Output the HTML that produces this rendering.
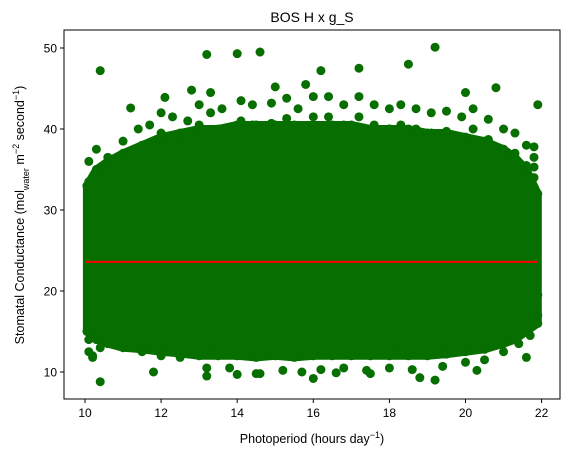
<!DOCTYPE html>
<html><head><meta charset="utf-8"><style>
body{margin:0;background:#fff}
svg text{font-family:"Liberation Sans","DejaVu Sans",sans-serif;fill:#000}
</style></head><body>
<svg id="chart" width="570" height="460" xmlns="http://www.w3.org/2000/svg">
<rect width="570" height="460" fill="#fff"/>
<g id="plot"></g>
<g id="axes"></g>
<text x="312" y="22" font-size="14" text-anchor="middle">BOS H x g_S</text>
<text x="312" y="443" font-size="12.5" text-anchor="middle">Photoperiod (hours day<tspan baseline-shift="super" font-size="9">−1</tspan>)</text>
<text transform="translate(24,215) rotate(-90)" font-size="12.5" text-anchor="middle">Stomatal Conductance (mol<tspan baseline-shift="sub" font-size="9">water</tspan> m<tspan baseline-shift="super" font-size="9">−2</tspan> second<tspan baseline-shift="super" font-size="9">−1</tspan>)</text>
</svg>
<script>
// data: envelope of the dense point cloud
const envX = [10.05,10.3,10.6,11,11.5,12,12.5,13,13.5,14,14.5,15,15.5,16,16.5,17,17.5,18,18.5,19,19.5,20,20.5,21,21.3,21.6,21.9];
const envUpper = [33,35,36,37,38,39,39.5,40,40,40.5,40.5,40.5,40.5,40.5,40.5,40.5,40,40,40,39.5,39.5,39,38.5,37.5,36.5,35,32];
const envLower = [15,14,13.5,13,12.8,12.5,12.3,12,12,12,11.8,12,11.8,12,12,12,12,12,12,12,12.2,12.5,12.8,13.5,14,15,16];
// fringe points around the cloud
const fringeX = [10.1,10.3,10.6,11.0,11.4,11.7,12.0,12.3,12.7,13.0,13.3,13.6,14.1,14.4,14.9,15.3,15.6,16.0,16.4,16.8,17.2,17.6,18.0,18.3,18.7,19.1,19.5,19.9,20.2,20.6,21.0,21.3,21.6,21.8,21.8,
  10.1,10.2,10.4,10.8,11.2,11.5,12.0,12.5,13.2,13.8,14.6,15.2,15.7,16.2,16.8,17.4,18.0,18.6,19.4,20.0,20.5,21.0,21.4,21.7,21.9];
const fringeY = [36,37.5,36.5,38.5,40,40.5,42,41.5,41,43,44.5,42.5,43.5,43,43.2,43.8,42.5,44,44,43,44,43,42.5,43,42.5,42,42.2,41.5,42.5,41.2,40,39.5,38,37.8,36.5,
  14,12,13,13.5,13.5,12.5,12,11.8,10.5,10.5,9.8,10.2,10,10.3,10.5,10.2,10.5,10.3,10.7,11.2,11.5,12.5,13.5,14.5,17];
const outX = [10.4,10.4,13.2,14.0,14.6,19.2,18.5,16.2,17.2,21.9,19.2,18.8,16.0,11.8,21.6,11.2,12.1,20.8,20.0,14.5,14.0,13.2,15.8,15.0,10.2,10.1,17.5,12.8,16.6,20.3];
const outY = [47.2,8.8,49.2,49.3,49.5,50.1,48.0,47.2,47.5,43.0,9.0,9.3,9.2,10.0,11.8,42.6,43.9,45.1,44.5,9.8,9.7,9.5,45.5,45.2,11.8,12.5,9.8,44.8,9.9,10.2];
const fitX = [10.02,21.9];
const fitY = [23.6,23.6];
const xTicks = [10,12,14,16,18,20,22];
const yTicks = [10,20,30,40,50];

const L=64,R=560,T=30,B=399;
const xs=v=>85+(v-10)*38.05;
const ys=v=>372-(v-10)*8.1;
const NS="http://www.w3.org/2000/svg";
const plot=document.getElementById('plot'), axes=document.getElementById('axes');
const G="#076e00";
function mk(tag,attrs,parent){const e=document.createElementNS(NS,tag);for(const k in attrs)e.setAttribute(k,attrs[k]);parent.appendChild(e);return e;}

let pts=envX.map((x,i)=>xs(x)+','+ys(envUpper[i]));
for(let i=envX.length-1;i>=0;i--)pts.push(xs(envX[i])+','+ys(envLower[i]));
const poly=mk('polygon',{points:pts.join(' '),fill:G,stroke:G,'stroke-width':8,'stroke-linejoin':'round'},plot);


envX.forEach((x,i)=>{
  [envUpper[i],envLower[i]].forEach(y=>{
    const c=mk('circle',{cx:xs(x),cy:ys(y),r:4.5,fill:G},plot);
    
    
  });
});
fringeX.forEach((x,i)=>{
  const c=mk('circle',{cx:xs(x),cy:ys(fringeY[i]),r:4.5,fill:G},plot);
  
  
  // connect fringe point to the cloud body like overlapping markers
  const yb=fringeY[i]>25?fringeY[i]-2.5:fringeY[i]+2.5;
  const c2=mk('circle',{cx:xs(x),cy:ys(yb),r:4.5,fill:G},plot);
  
  
});
outX.forEach((x,i)=>{
  const c=mk('circle',{cx:xs(x),cy:ys(outY[i]),r:4.5,fill:G},plot);
  
  
});
const fl=mk('line',{x1:xs(fitX[0]),y1:ys(fitY[0]),x2:xs(fitX[1]),y2:ys(fitY[1]),stroke:'#ff0000','stroke-width':2},plot);



const fr=mk('rect',{x:L,y:T,width:R-L,height:B-T,fill:'none',stroke:'#000','stroke-width':1},axes);


xTicks.forEach(t=>{
  const x=xs(t);
  mk('line',{x1:x,y1:B,x2:x,y2:B+4,stroke:'#000'},axes);
  const tx=mk('text',{x:x,y:B+18,'font-size':12,'text-anchor':'middle'},axes);
  tx.textContent=t;
  
  
});
yTicks.forEach(t=>{
  const y=ys(t);
  mk('line',{x1:L-4,y1:y,x2:L,y2:y,stroke:'#000'},axes);
  const tx=mk('text',{x:L-7,y:y+4.5,'font-size':12,'text-anchor':'end'},axes);
  tx.textContent=t;
  
  
});
</script>
</body></html>
